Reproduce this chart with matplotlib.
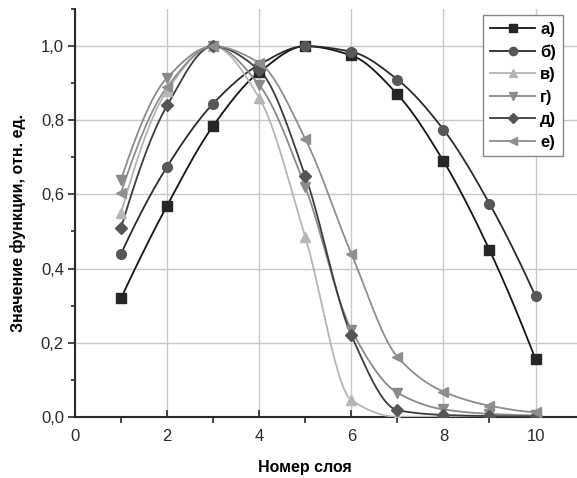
import numpy as np
import matplotlib
matplotlib.use("Agg")
import matplotlib.pyplot as plt
from matplotlib.ticker import MultipleLocator, FuncFormatter

# ---- data ----
layers = [1, 2, 3, 4, 5, 6, 7, 8, 9, 10]
series_a = [0.32, 0.57, 0.785, 0.93, 1.0, 0.975, 0.87, 0.69, 0.45, 0.155]
series_b = [0.44, 0.675, 0.845, 0.95, 1.0, 0.985, 0.91, 0.775, 0.575, 0.325]
series_v = [0.55, 0.88, 1.0, 0.86, 0.485, 0.045, 0.0, 0.0, 0.0, 0.0]
series_g = [0.64, 0.915, 1.0, 0.895, 0.62, 0.235, 0.065, 0.02, 0.008, 0.004]
series_d = [0.51, 0.84, 1.0, 0.935, 0.65, 0.22, 0.018, 0.005, 0.002, 0.001]
series_e = [0.605, 0.89, 1.0, 0.955, 0.75, 0.44, 0.162, 0.068, 0.03, 0.012]
labels = ["а)", "б)", "в)", "г)", "д)", "е)"]

plt.rcParams["font.family"] = ["Liberation Sans", "DejaVu Sans"]


def pchip(x, y, xs):
    # monotone cubic, just for the smooth connecting line
    x = np.asarray(x, float)
    y = np.asarray(y, float)
    h = np.diff(x)
    delta = np.diff(y) / h
    n = len(x)
    d = np.zeros(n)
    for k in range(1, n - 1):
        if delta[k - 1] * delta[k] <= 0:
            d[k] = 0.0
        else:
            w1 = 2 * h[k] + h[k - 1]
            w2 = h[k] + 2 * h[k - 1]
            d[k] = (w1 + w2) / (w1 / delta[k - 1] + w2 / delta[k])

    def end(h0, h1, d0, d1):
        s = ((2 * h0 + h1) * d0 - h0 * d1) / (h0 + h1)
        if np.sign(s) != np.sign(d0):
            s = 0.0
        elif np.sign(d0) != np.sign(d1) and abs(s) > abs(3 * d0):
            s = 3 * d0
        return s

    d[0] = end(h[0], h[1], delta[0], delta[1])
    d[-1] = end(h[-1], h[-2], delta[-1], delta[-2])
    idx = np.clip(np.searchsorted(x, xs) - 1, 0, n - 2)
    t = (xs - x[idx]) / h[idx]
    h00 = 2 * t**3 - 3 * t**2 + 1
    h10 = t**3 - 2 * t**2 + t
    h01 = -2 * t**3 + 3 * t**2
    h11 = t**3 - t**2
    return h00 * y[idx] + h10 * h[idx] * d[idx] + h01 * y[idx + 1] + h11 * h[idx] * d[idx + 1]


fig = plt.figure(figsize=(5.77, 4.78), dpi=100)
ax = fig.add_axes([0.130, 0.128, 0.870, 0.853])

styles = [
    (series_a, "s", "#151515", "#262626", 6.5),
    (series_b, "o", "#2b2b2b", "#575757", 7.0),
    (series_v, "^", "#b5b5b5", "#b5b5b5", 7.5),
    (series_g, "v", "#8a8a8a", "#8a8a8a", 7.5),
    (series_d, "D", "#3c3c3c", "#555555", 6.0),
    (series_e, "<", "#8e8e8e", "#8e8e8e", 7.5),
]

xs = np.linspace(layers[0], layers[-1], 400)
handles = []
for (vals, mk, lc, mc, ms), lab in zip(styles, labels):
    ax.plot(xs, pchip(layers, vals, xs), color=lc, lw=1.3, zorder=3)
    ax.plot(layers, vals, ls="none", marker=mk, ms=ms, mfc=mc, mec=mc, zorder=4)
    h, = ax.plot([], [], color=lc, lw=1.3, marker=mk, ms=ms, mfc=mc, mec=mc, label=lab)
    handles.append(h)

ax.set_xlim(0, 10.9)
ax.set_ylim(0, 1.1)
ax.xaxis.set_major_locator(MultipleLocator(2))
ax.xaxis.set_minor_locator(MultipleLocator(1))
ax.yaxis.set_major_locator(MultipleLocator(0.2))
ax.yaxis.set_minor_locator(MultipleLocator(0.1))
ax.yaxis.set_major_formatter(FuncFormatter(lambda v, p: f"{v:.1f}".replace(".", ",")))

ax.grid(True, which="major", color="#c8c8c8", lw=1.0, zorder=0)
for side in ["top", "right"]:
    ax.spines[side].set_visible(False)
for side in ["left", "bottom"]:
    ax.spines[side].set_color("#2a2a2a")
    ax.spines[side].set_linewidth(1.5)

ax.tick_params(axis="x", which="major", direction="in", length=5, width=1.2,
               labelsize=12, pad=9, colors="#2a2a2a")
ax.tick_params(axis="x", which="minor", direction="out", length=4, width=1.2, colors="#2a2a2a")
ax.tick_params(axis="y", which="major", direction="out", length=5, width=1.2,
               labelsize=12, pad=3, colors="#2a2a2a")
ax.tick_params(axis="y", which="minor", direction="out", length=3, width=1.2, colors="#2a2a2a")

ax.set_xlabel("Номер слоя", fontsize=11.5, fontweight="bold")
ax.set_ylabel("Значение функции, отн. ед.", fontsize=11.5, fontweight="bold")
ax.xaxis.set_label_coords(0.458, -0.105)
ax.yaxis.set_label_coords(-0.098, 0.475)

leg = ax.legend(handles=handles, loc="upper right", bbox_to_anchor=(0.972, 0.985),
                borderaxespad=0, fancybox=False, edgecolor="#888888", framealpha=1,
                handlelength=2.7, labelspacing=0.45, handletextpad=0.3, markerscale=0.85,
                prop={"size": 12, "weight": "bold"})
leg.get_frame().set_linewidth(1.0)

fig.savefig("out.png", dpi=100)
